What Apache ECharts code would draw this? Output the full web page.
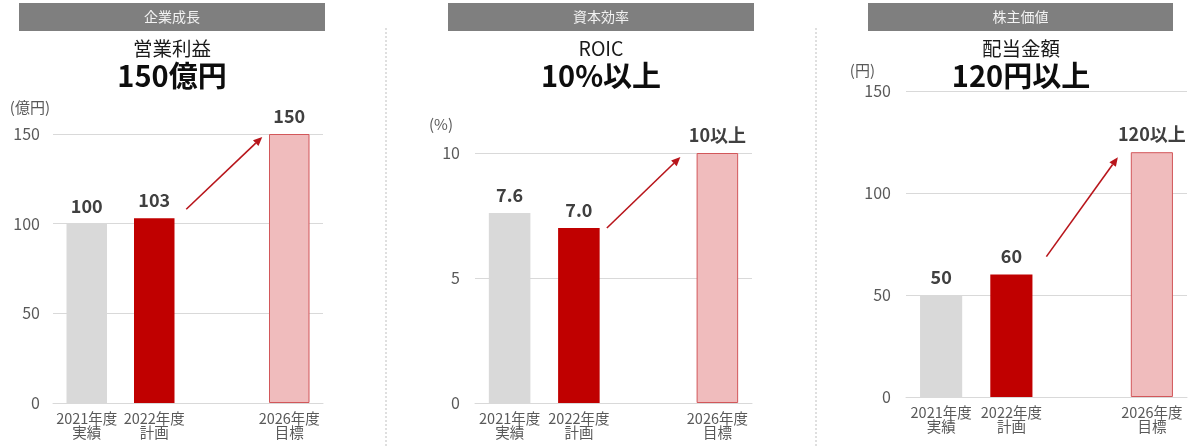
<!DOCTYPE html>
<html>
<head>
<meta charset="utf-8">
<script src="https://cdn.jsdelivr.net/npm/echarts@6/dist/echarts.min.js"></script>
<style>
  html, body { margin: 0; padding: 0; background: #ffffff; }
  #chart { width: 1189px; height: 446px; }
</style>
</head>
<body>
<div id="chart"></div>
<script>
// Fiscal-year categories (the blank slot leaves a gap before the target year)
const categories = ['2021年度\n実績', '2022年度\n計画', '', '2026年度\n目標'];

// Operating profit (億円)
const profitValues = [100, 103, null, 150];
const profitLabels = ['100', '103', '', '150'];
const profitTicks = [0, 50, 100, 150];

// ROIC (%)
const roicValues = [7.6, 7.0, null, 10];
const roicLabels = ['7.6', '7.0', '', '10以上'];
const roicTicks = [0, 5, 10];

// Dividend per share (円)
const dividendValues = [50, 60, null, 120];
const dividendLabels = ['50', '60', '', '120以上'];
const dividendTicks = [0, 50, 100, 150];

const FONT = '"Noto Sans CJK JP", "Noto Sans", sans-serif';

const barStyles = [
  { color: '#d9d9d9' },
  { color: '#c00000' },
  { color: '#d9d9d9' },
  { color: '#f0bcbd', borderColor: '#d2575a', borderWidth: 1 }
];

const panels = [
  {
    header: '企業成長', title: '営業利益', headline: '150億円', unit: '(億円)',
    values: profitValues, labels: profitLabels, ticks: profitTicks,
    grid: { left: 53, top: 134, width: 270, bottom: 43 },
    headerBox: [19, 3, 306, 28], centerX: 172,
    unitPad: 3, unitGap: 27, tickMargin: 13,
    arrow: { from: [32, -9], to: [-27, 3] }
  },
  {
    header: '資本効率', title: 'ROIC', headline: '10%以上', unit: '(%)',
    values: roicValues, labels: roicLabels, ticks: roicTicks,
    grid: { left: 475, top: 153, width: 277, bottom: 43 },
    headerBox: [448, 3, 306, 28], centerX: 601,
    unitPad: 22, unitGap: 29, tickMargin: 15,
    arrow: { from: [28, 0], to: [-37, 4] }
  },
  {
    header: '株主価値', title: '配当金額', headline: '120円以上', unit: '(円)',
    values: dividendValues, labels: dividendLabels, ticks: dividendTicks,
    grid: { left: 906, top: 91, width: 281, bottom: 49 },
    headerBox: [868, 3, 305, 28], centerX: 1021,
    unitPad: 31, unitGap: 21, tickMargin: 15,
    arrow: { from: [35, -18], to: [-34, 5] }
  }
];

const chart = echarts.init(document.getElementById('chart'), null, { renderer: 'canvas' });

const option = {
  animation: false,
  backgroundColor: '#ffffff',
  textStyle: { fontFamily: FONT },
  grid: panels.map(p => Object.assign({ containLabel: false }, p.grid)),
  xAxis: panels.map((p, i) => ({
    type: 'category',
    gridIndex: i,
    data: categories,
    axisLine: { show: true, lineStyle: { color: '#d9d9d9', width: 1 } },
    axisTick: { show: false },
    axisLabel: {
      interval: 0, margin: 9, color: '#595959', fontFamily: FONT,
      fontSize: 14.5, lineHeight: 13.5
    }
  })),
  yAxis: panels.map((p, i) => ({
    type: 'value',
    gridIndex: i,
    min: p.ticks[0],
    max: p.ticks[p.ticks.length - 1],
    interval: p.ticks[1] - p.ticks[0],
    name: p.unit,
    nameLocation: 'end',
    nameGap: p.unitGap,
    nameTextStyle: {
      color: '#595959', fontFamily: FONT, fontSize: 15,
      align: 'right', verticalAlign: 'middle', padding: [0, p.unitPad, 0, 0]
    },
    axisLine: { show: false },
    axisTick: { show: false },
    axisLabel: { color: '#595959', fontFamily: FONT, fontSize: 16, margin: p.tickMargin },
    splitLine: { show: true, lineStyle: { color: '#d9d9d9', width: 1 } }
  })),
  series: panels.map((p, i) => ({
    type: 'bar',
    xAxisIndex: i,
    yAxisIndex: i,
    barWidth: '60%',
    data: p.values.map((v, k) => ({ value: v, itemStyle: barStyles[k] })),
    label: {
      show: true,
      position: 'top',
      distance: 9,
      color: '#404040',
      fontFamily: FONT,
      fontWeight: 'bold',
      fontSize: 18,
      formatter: params => p.labels[params.dataIndex]
    }
  }))
};

chart.setOption(option);

// Decorations: section headers, headline titles, dotted separators, growth arrows
function buildGraphics() {
  const elements = [];

  panels.forEach(p => {
    const [hx, hy, hw, hh] = p.headerBox;
    elements.push({
      type: 'rect', silent: true,
      shape: { x: hx, y: hy, width: hw, height: hh },
      style: { fill: '#7f7f7f' }
    });
    elements.push({
      type: 'text', silent: true, x: hx + hw / 2, y: hy + hh / 2,
      style: { text: p.header, fill: '#f2f2f2', font: '14px ' + FONT, align: 'center', verticalAlign: 'middle' }
    });
    elements.push({
      type: 'text', silent: true, x: p.centerX, y: 49,
      style: { text: p.title, fill: '#1a1a1a', font: '19.5px ' + FONT, align: 'center', verticalAlign: 'middle' }
    });
    elements.push({
      type: 'text', silent: true, x: p.centerX, y: 76,
      style: { text: p.headline, fill: '#0d0d0d', font: 'bold 29px ' + FONT, align: 'center', verticalAlign: 'middle' }
    });
  });

  [386, 816].forEach(x => {
    elements.push({
      type: 'line', silent: true,
      shape: { x1: x, y1: 28, x2: x, y2: 446 },
      style: { stroke: '#bfbfbf', lineWidth: 1, lineDash: [2, 2] }
    });
  });

  panels.forEach((p, i) => {
    const a = chart.convertToPixel({ gridIndex: i }, [1, p.values[1]]);
    const b = chart.convertToPixel({ gridIndex: i }, [3, p.values[3]]);
    const x1 = a[0] + p.arrow.from[0], y1 = a[1] + p.arrow.from[1];
    const x2 = b[0] + p.arrow.to[0], y2 = b[1] + p.arrow.to[1];
    const dx = x2 - x1, dy = y2 - y1;
    const len = Math.sqrt(dx * dx + dy * dy);
    const ux = dx / len, uy = dy / len;
    const headLen = 9, headHalf = 4;
    const bx = x2 - ux * headLen, by = y2 - uy * headLen;
    elements.push({
      type: 'line', silent: true,
      shape: { x1: x1, y1: y1, x2: bx, y2: by },
      style: { stroke: '#b8151b', lineWidth: 1.6 }
    });
    elements.push({
      type: 'polygon', silent: true,
      shape: { points: [[x2, y2], [bx - uy * headHalf, by + ux * headHalf], [bx + uy * headHalf, by - ux * headHalf]] },
      style: { fill: '#b8151b' }
    });
  });

  return elements;
}

chart.setOption({ graphic: { elements: buildGraphics() } });
</script>
</body>
</html>
